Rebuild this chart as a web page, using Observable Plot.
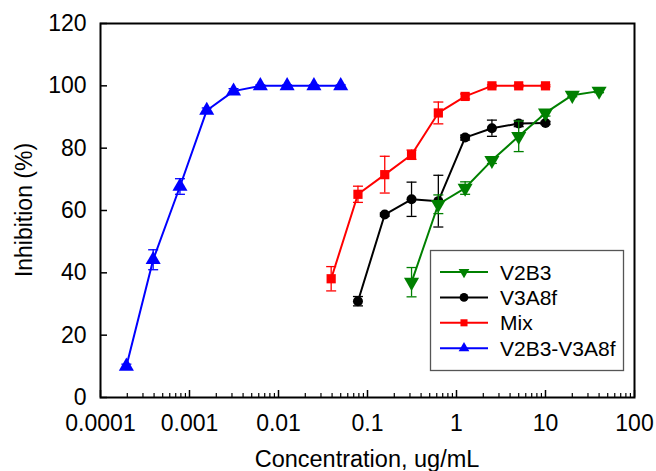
<!DOCTYPE html>
<html>
<head>
<meta charset="utf-8">
<script src="https://cdn.jsdelivr.net/npm/d3@7"></script>
<script src="https://cdn.jsdelivr.net/npm/@observablehq/plot@0.6"></script>
<style>
  html, body { margin: 0; padding: 0; background: white; }
  #chart { width: 656px; height: 471px; }
</style>
</head>
<body>
<div id="chart"></div>
<script>
// ---- data ----
const seriesNames = ["V2B3", "V3A8f", "Mix", "V2B3-V3A8f"];
const seriesColors = ["#008000", "#000000", "#ff0000", "#0000ff"];
const seriesSymbols = ["triangle-down", "circle", "square", "triangle"];

const v2b3X = [0.3125, 0.625, 1.25, 2.5, 5, 10, 20, 40];
const v2b3Y = [37.0, 62.0, 67.2, 76.1, 83.8, 91.3, 97.0, 98.3];
const v2b3Err = [4.7, 3.0, 2.0, 1.0, 4.9, 1.0, 0.5, 0.5];

const v3a8fX = [0.078125, 0.15625, 0.3125, 0.625, 1.25, 2.5, 5, 10];
const v3a8fY = [30.9, 58.7, 63.6, 63.0, 83.4, 86.4, 87.9, 88.1];
const v3a8fErr = [1.5, 0.5, 5.5, 8.3, 0.8, 2.6, 1.0, 0.5];

const mixX = [0.0390625, 0.078125, 0.15625, 0.3125, 0.625, 1.25, 2.5, 5, 10];
const mixY = [38.1, 65.2, 71.5, 77.9, 91.3, 96.6, 100, 100, 100];
const mixErr = [3.9, 2.6, 5.9, 1.5, 3.5, 0.8, 0.3, 0.3, 0.3];

const comboX = [0.0001953125, 0.000390625, 0.00078125, 0.0015625, 0.003125, 0.00625, 0.0125, 0.025, 0.05];
const comboY = [10.0, 44.2, 67.7, 92.1, 98.3, 100, 100, 100, 100];
const comboErr = [0.7, 3.2, 2.5, 0.8, 0.8, 0.3, 0.3, 0.3, 0.3];

const xMajorTicks = [0.0001, 0.001, 0.01, 0.1, 1, 10, 100];
const xMinorMultipliers = [2, 3, 4, 5, 6, 7, 8, 9];
const yTicks = [0, 20, 40, 60, 80, 100, 120];

const xTitle = "Concentration, ug/mL";
const yTitle = "Inhibition (%)";

// ---- build table ----
const seriesData = [
  {x: v2b3X, y: v2b3Y, e: v2b3Err},
  {x: v3a8fX, y: v3a8fY, e: v3a8fErr},
  {x: mixX, y: mixY, e: mixErr},
  {x: comboX, y: comboY, e: comboErr}
];
const rows = [];
seriesData.forEach((s, i) => s.x.forEach((x, j) => rows.push({
  series: seriesNames[i], x, y: s.y[j], e: s.e[j], color: seriesColors[i], symbol: seriesSymbols[i]
})));
const xMinorTicks = xMajorTicks.slice(0, -1).flatMap(d => xMinorMultipliers.map(m => d * m));

const FONT = "'Liberation Sans', Arial, sans-serif";

// custom symbols
const capSymbol = { draw(ctx) { ctx.moveTo(-5, 0); ctx.lineTo(5, 0); } };
const triangleDown = {
  draw(ctx, size) {
    const s = Math.sqrt(4 * size / Math.sqrt(3));
    const h = s * Math.sqrt(3) / 2;
    ctx.moveTo(0, 2 * h / 3);
    ctx.lineTo(s / 2, -h / 3);
    ctx.lineTo(-s / 2, -h / 3);
    ctx.closePath();
  }
};
const plotSymbol = name => name === "triangle-down" ? triangleDown : name;

const drawOrder = ["V2B3-V3A8f", "Mix", "V3A8f", "V2B3"];
const marks = [];
for (const name of drawOrder) {
  const d = rows.filter(r => r.series === name);
  const color = d[0].color;
  marks.push(
    Plot.ruleX(d, {x: "x", y1: r => r.y - r.e, y2: r => r.y + r.e, stroke: color, strokeWidth: 1.3}),
    Plot.dot(d, {x: "x", y: r => r.y + r.e, symbol: capSymbol, stroke: color, strokeWidth: 1.3, fill: "none"}),
    Plot.dot(d, {x: "x", y: r => r.y - r.e, symbol: capSymbol, stroke: color, strokeWidth: 1.3, fill: "none"}),
    Plot.line(d, {x: "x", y: "y", stroke: color, strokeWidth: 2}),
    Plot.dot(d, {x: "x", y: "y", symbol: plotSymbol(d[0].symbol), fill: color, stroke: "none",
                 r: name === "V3A8f" ? 5 : (name === "Mix" ? 5.2 : 5.6)})
  );
}

const chart = Plot.plot({
  width: 656,
  height: 471,
  marginLeft: 100,
  marginRight: 22,
  marginTop: 23,
  marginBottom: 74,
  style: {fontFamily: FONT, fontSize: "22px", background: "white", color: "black"},
  x: {type: "log", domain: [0.0001, 100]},
  y: {domain: [0, 120]},
  marks: [
    ...marks,
    Plot.axisX({ticks: xMinorTicks, tickSize: -4, tickFormat: () => "", strokeWidth: 1.2, label: null}),
    Plot.axisX({ticks: xMajorTicks, tickSize: -7, tickFormat: () => "", strokeWidth: 1.5, label: null}),
    Plot.axisX({ticks: xMajorTicks, tickSize: 0, tickPadding: 17, tickFormat: d => String(d), fontSize: 23, label: null}),
    Plot.axisY({ticks: yTicks, tickSize: -7, tickFormat: () => "", strokeWidth: 1.5, label: null}),
    Plot.axisY({ticks: yTicks, tickSize: 0, tickPadding: 14, tickFormat: d => String(d), fontSize: 23, label: null}),
    Plot.frame({stroke: "black", strokeWidth: 2})
  ]
});

document.getElementById("chart").appendChild(chart);

// enforce tick label font size
d3.select(chart).selectAll('g[aria-label="x-axis tick label"], g[aria-label="y-axis tick label"]')
  .attr("font-size", 23).style("font-size", "23px");

// ---- titles and legend ----
const svg = d3.select(chart);
svg.append("text")
  .attr("x", 367).attr("y", 467)
  .attr("text-anchor", "middle")
  .attr("font-size", 23.5)
  .attr("font-family", FONT)
  .text(xTitle);
svg.append("text")
  .attr("transform", "translate(24,210) rotate(-90)")
  .attr("dy", "0.35em")
  .attr("text-anchor", "middle")
  .attr("font-size", 23)
  .attr("font-family", FONT)
  .text(yTitle);

const lg = svg.append("g");
lg.append("rect").attr("x", 430.5).attr("y", 250.5).attr("width", 193).attr("height", 120)
  .attr("fill", "white").attr("stroke", "#555").attr("stroke-width", 1.3);
const legendSymbols = {"triangle-down": triangleDown, "circle": d3.symbolCircle, "square": d3.symbolSquare, "triangle": d3.symbolTriangle};
seriesNames.forEach((name, i) => {
  const cy = 272 + i * 25.4;
  const g = lg.append("g");
  g.append("line").attr("x1", 440).attr("x2", 488).attr("y1", cy).attr("y2", cy)
    .attr("stroke", seriesColors[i]).attr("stroke-width", 2);
  const sym = d3.symbol(legendSymbols[seriesSymbols[i]], seriesSymbols[i] === "circle" ? 60 : 50);
  g.append("path").attr("d", sym())
    .attr("transform", `translate(464,${cy})`)
    .attr("fill", seriesColors[i]);
  g.append("text").attr("x", 500).attr("y", cy + 7.5)
    .attr("text-anchor", "start")
    .attr("font-size", 21)
    .attr("font-family", FONT)
    .text(name);
});
</script>
</body>
</html>
